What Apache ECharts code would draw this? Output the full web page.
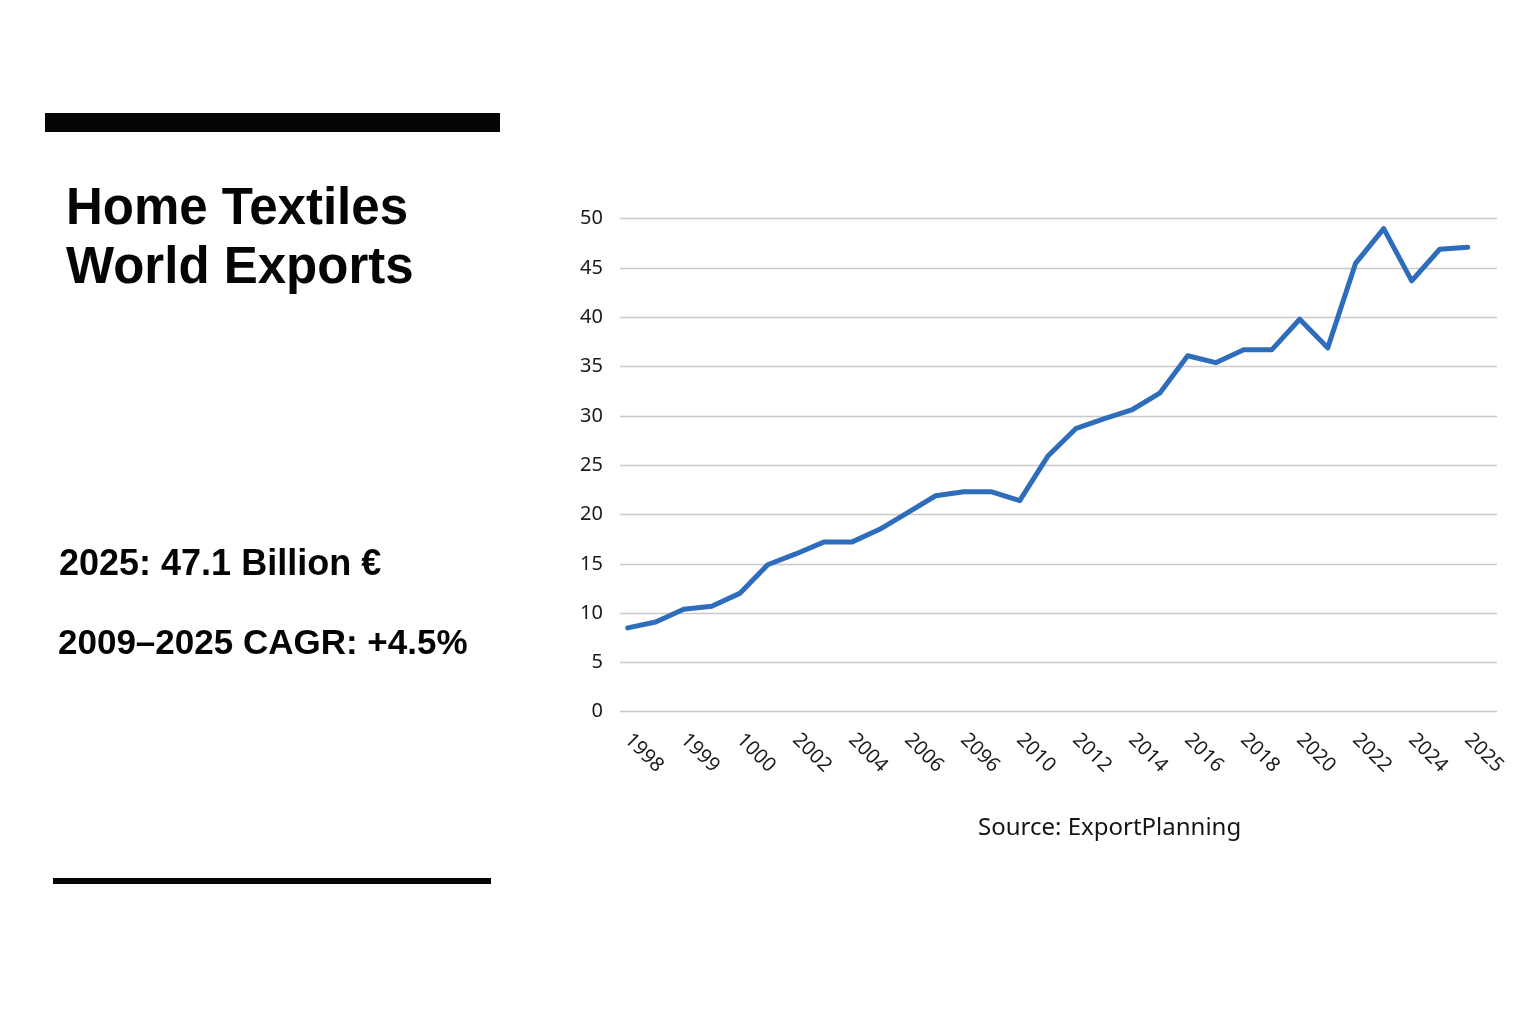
<!DOCTYPE html>
<html>
<head>
<meta charset="utf-8">
<title>Home Textiles World Exports</title>
<script src="https://cdn.jsdelivr.net/npm/echarts@6/dist/echarts.min.js"></script>
<style>
  html, body { margin: 0; padding: 0; background: #ffffff; }
  #main { width: 1536px; height: 1024px; }
</style>
</head>
<body>
<div id="main"></div>
<script>
// tick labels as printed under the axis (one every second point)
const tickLabels = ['1998', '1999', '1000', '2002', '2004', '2006', '2096', '2010',
  '2012', '2014', '2016', '2018', '2020', '2022', '2024', '2025']
// exports, billion €
const exportValues = [8.5, 9.1, 10.4, 10.7, 12.0, 14.9, 16.0, 17.2, 17.2, 18.5,
  20.2, 21.9, 22.3, 22.3, 21.4, 25.9, 28.7, 29.7, 30.6, 32.3,
  36.1, 35.4, 36.7, 36.7, 39.8, 36.9, 45.5, 49.0, 43.7, 46.9, 47.1]
const yTicks = [0, 5, 10, 15, 20, 25, 30, 35, 40, 45, 50]

// one category per point, labels sit on the even ones
const categories = tickLabels.flatMap((t, i) => i < tickLabels.length - 1 ? [t, ''] : [t])

const chart = echarts.init(document.getElementById('main'), null, {renderer: 'canvas'})

const option = {
  backgroundColor: '#ffffff',
  animation: false,
  grid: [
    // gridlines + y labels
    {left: 620, right: 39, top: 218.7, bottom: 312.3},
    // the line itself
    {left: 627.7, right: 68.3, top: 218.7, bottom: 312.3}
  ],
  xAxis: [
    {
      gridIndex: 0, type: 'category', data: categories, show: false
    },
    {
      gridIndex: 1,
      type: 'category',
      data: categories,
      boundaryGap: false,
      axisLine: {show: false},
      axisTick: {show: false},
      axisLabel: {
        interval: 1,
        rotate: -45,
        margin: 25,
        fontSize: 20,
        fontFamily: 'Noto Sans',
        color: '#1a1a1a'
      }
    }
  ],
  yAxis: [
    {
      gridIndex: 0,
      type: 'value',
      min: yTicks[0],
      max: yTicks[yTicks.length - 1],
      interval: 5,
      axisLine: {show: false},
      axisTick: {show: false},
      axisLabel: {
        margin: 17,
        fontSize: 20,
        fontFamily: 'Noto Sans',
        color: '#1a1a1a'
      },
      splitLine: {lineStyle: {color: '#c9c9cc', width: 1.3}}
    },
    {
      gridIndex: 1, type: 'value', min: 0, max: 50, interval: 5, show: false
    }
  ],
  series: [
    {
      name: 'World Exports',
      type: 'line',
      xAxisIndex: 1,
      yAxisIndex: 1,
      data: exportValues,
      showSymbol: false,
      lineStyle: {color: '#2e6cbc', width: 5, join: 'round', cap: 'round'},
      itemStyle: {color: '#2e6cbc'}
    }
  ],
  graphic: [
    {type: 'rect', shape: {x: 45, y: 113, width: 455, height: 19}, style: {fill: '#050505'}},
    {type: 'rect', shape: {x: 53, y: 878, width: 438, height: 6}, style: {fill: '#050505'}},
    {
      type: 'text', left: 66, top: 180,
      style: {
        text: 'Home Textiles\nWorld Exports',
        font: 'bold 51px "Liberation Sans"',
        lineHeight: 59,
        fill: '#050505'
      }
    },
    {
      type: 'text', left: 59, top: 547,
      style: {text: '2025: 47.1 Billion €', font: 'bold 36px "Liberation Sans"', fill: '#050505'}
    },
    {
      type: 'text', left: 58, top: 627,
      style: {text: '2009–2025 CAGR: +4.5%', font: 'bold 35px "Liberation Sans"', fill: '#050505'}
    },
    {
      type: 'text', left: 978, top: 816,
      style: {text: 'Source: ExportPlanning', font: '24px "Noto Sans"', fill: '#151515'}
    }
  ]
}

chart.setOption(option)
</script>
</body>
</html>
